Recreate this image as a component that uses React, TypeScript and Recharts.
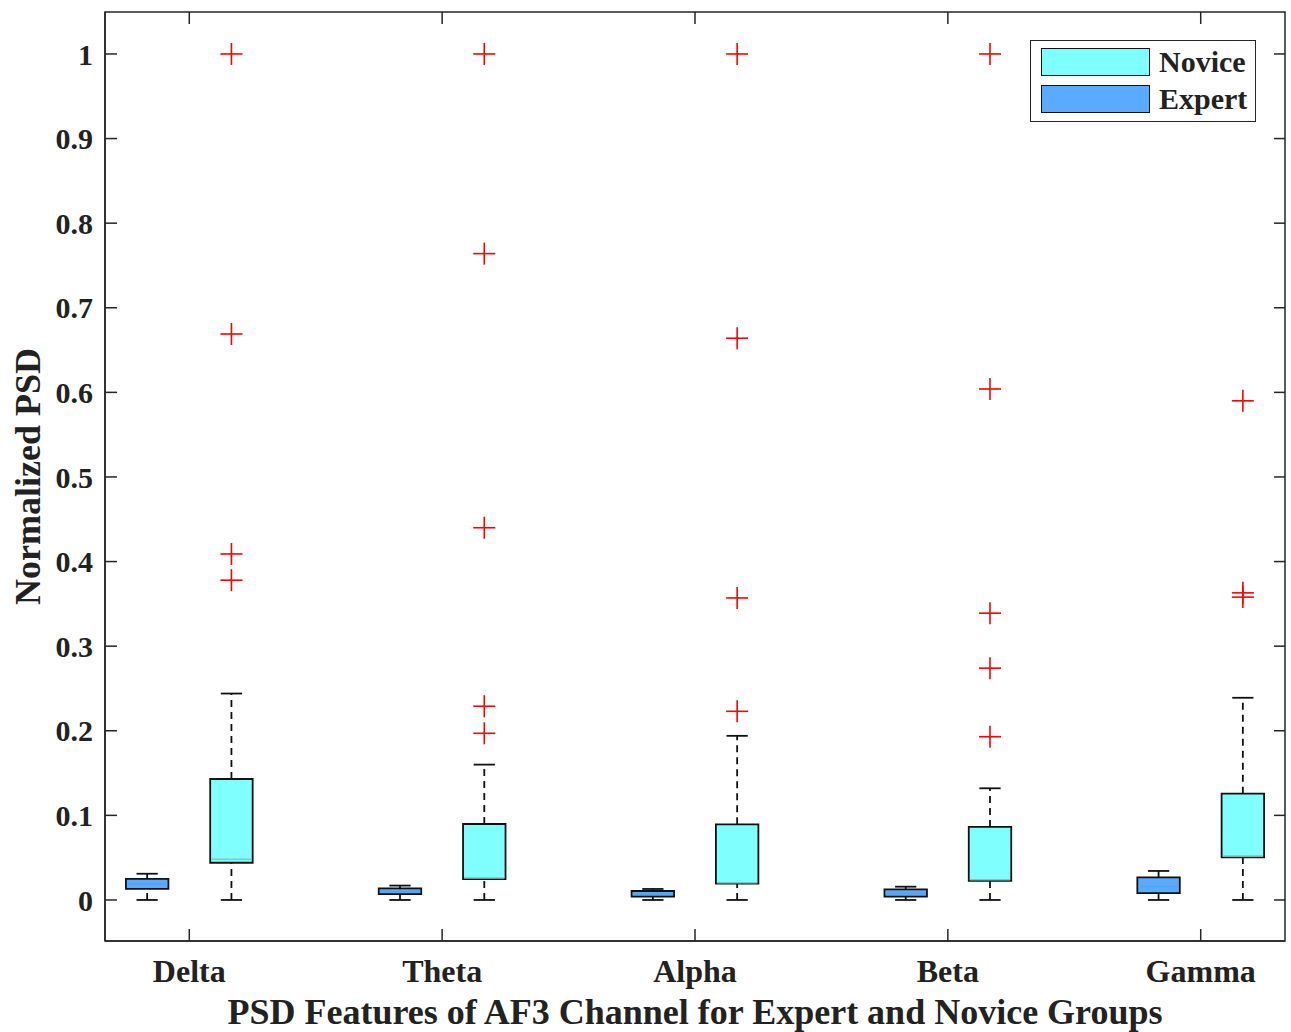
import {
  ScatterChart,
  Scatter,
  XAxis,
  YAxis,
  ReferenceArea,
  ReferenceLine,
} from "recharts";

// Frequency bands on the x axis (positions 1..5)
const bands = ["Delta", "Theta", "Alpha", "Beta", "Gamma"];

// Expert group box statistics (normalized PSD)
const expertMin = [0, 0, 0, 0, 0];
const expertQ1 = [0.013, 0.007, 0.004, 0.004, 0.008];
const expertMedian = [0.019, 0.01, 0.007, 0.008, 0.016];
const expertQ3 = [0.025, 0.0137, 0.0106, 0.0126, 0.0268];
const expertMax = [0.031, 0.017, 0.013, 0.0157, 0.0343];

// Novice group box statistics (normalized PSD)
const noviceMin = [0, 0, 0, 0, 0];
const noviceQ1 = [0.044, 0.0248, 0.0193, 0.0225, 0.0504];
const noviceMedian = [0.048, 0.026, 0.0205, 0.024, 0.052];
const noviceQ3 = [0.143, 0.0898, 0.0894, 0.0863, 0.1257];
const noviceMax = [0.244, 0.16, 0.194, 0.132, 0.239];
const noviceOutliers = [
  [1.0, 0.669, 0.409, 0.378],
  [1.0, 0.764, 0.44, 0.229, 0.197],
  [1.0, 0.664, 0.357, 0.223],
  [1.0, 0.604, 0.339, 0.274, 0.193],
  [0.59, 0.363, 0.358],
];

const yTicks = [0, 0.1, 0.2, 0.3, 0.4, 0.5, 0.6, 0.7, 0.8, 0.9, 1];
const xTicks = [1, 2, 3, 4, 5];

const COLORS = {
  novice: "#80FFFF",
  expert: "#5AAAFF",
  noviceMedian: "#79c9c4",
  expertMedian: "#55a3f5",
  outlier: "#FF0000",
  axis: "#262626",
  box: "#111111",
  text: "#222222",
};

const FONT = "'Liberation Serif', 'Times New Roman', serif";

const X_DOMAIN: [number, number] = [2 / 3, 16 / 3];
const Y_DOMAIN: [number, number] = [-0.0485, 1.0496];

const GROUP_OFFSET = 1 / 6; // expert left, novice right of band tick
const BOX_HALF = 0.084;
const CAP_HALF = 0.042;
// inward tick lengths on the top / right frame edges, in data units
const TOP_TICK = 0.0142;
const RIGHT_TICK = 0.0435;

const outlierPoints = noviceOutliers.flatMap((vals, i) =>
  vals.map((v) => ({ x: i + 1 + GROUP_OFFSET, y: v }))
);

function PlusMark(props: any) {
  const { cx, cy } = props;
  if (cx == null || cy == null) return null;
  const r = 11;
  return (
    <g stroke={COLORS.outlier} strokeWidth={1.6}>
      <line x1={cx - r} y1={cy} x2={cx + r} y2={cy} />
      <line x1={cx} y1={cy - r} x2={cx} y2={cy + r} />
    </g>
  );
}

function fmtY(v: number) {
  if (v === 0) return "0";
  if (v === 1) return "1";
  return v.toFixed(1);
}

function renderBox(
  key: string,
  pos: number,
  lo: number,
  q1: number,
  med: number,
  q3: number,
  hi: number,
  fill: string,
  medColor: string
) {
  return [
    <ReferenceLine
      key={`${key}-wu`}
      segment={[
        { x: pos, y: q3 },
        { x: pos, y: hi },
      ]}
      stroke={COLORS.box}
      strokeWidth={1.8}
      strokeDasharray="7 5"
    />,
    <ReferenceLine
      key={`${key}-wl`}
      segment={[
        { x: pos, y: lo },
        { x: pos, y: q1 },
      ]}
      stroke={COLORS.box}
      strokeWidth={1.8}
      strokeDasharray="7 5"
    />,
    <ReferenceLine
      key={`${key}-ch`}
      segment={[
        { x: pos - CAP_HALF, y: hi },
        { x: pos + CAP_HALF, y: hi },
      ]}
      stroke={COLORS.box}
      strokeWidth={1.8}
    />,
    <ReferenceLine
      key={`${key}-cl`}
      segment={[
        { x: pos - CAP_HALF, y: lo },
        { x: pos + CAP_HALF, y: lo },
      ]}
      stroke={COLORS.box}
      strokeWidth={1.8}
    />,
    <ReferenceArea
      key={`${key}-box`}
      x1={pos - BOX_HALF}
      x2={pos + BOX_HALF}
      y1={q1}
      y2={q3}
      fill={fill}
      fillOpacity={1}
      stroke={COLORS.box}
      strokeWidth={1.8}
    />,
    <ReferenceLine
      key={`${key}-med`}
      segment={[
        { x: pos - BOX_HALF + 0.004, y: med },
        { x: pos + BOX_HALF - 0.004, y: med },
      ]}
      stroke={medColor}
      strokeWidth={1.5}
    />,
  ];
}

function LegendBox() {
  const row = (label: string, color: string, top: number) => (
    <div
      style={{
        position: "absolute",
        left: 10,
        top,
        display: "flex",
        alignItems: "center",
      }}
    >
      <div
        style={{
          width: 109,
          height: 28,
          background: color,
          border: `1.5px solid ${COLORS.box}`,
          boxSizing: "border-box",
        }}
      />
      <span
        style={{
          marginLeft: 9,
          fontFamily: FONT,
          fontWeight: 700,
          fontSize: 30,
          color: COLORS.text,
          lineHeight: "28px",
        }}
      >
        {label}
      </span>
    </div>
  );
  return (
    <div
      style={{
        position: "absolute",
        left: 1030,
        top: 40,
        width: 226,
        height: 82,
        border: `1.5px solid ${COLORS.axis}`,
        background: "#fff",
        boxSizing: "border-box",
      }}
    >
      {row("Novice", COLORS.novice, 7)}
      {row("Expert", COLORS.expert, 44)}
    </div>
  );
}

export default function App() {
  const tickStyle = {
    fill: COLORS.text,
    fontFamily: FONT,
    fontWeight: 700,
  };

  return (
    <div
      style={{
        position: "absolute",
        left: 0,
        top: 0,
        width: 1291,
        height: 1032,
        overflow: "hidden",
        background: "#fff",
      }}
    >
      <ScatterChart
        width={1291}
        height={1032}
        margin={{ top: 12, right: 6, bottom: 0, left: 0 }}
      >
        <XAxis
          type="number"
          dataKey="x"
          domain={X_DOMAIN}
          ticks={xTicks}
          tickFormatter={(v: number) => bands[v - 1] ?? ""}
          height={91}
          stroke={COLORS.axis}
          strokeWidth={1.5}
          tickSize={-12}
          tickMargin={30}
          tick={{ ...tickStyle, fontSize: 32 }}
          allowDataOverflow
          label={{
            value: "PSD Features of AF3 Channel for Expert and Novice Groups",
            position: "insideBottom",
            offset: 8,
            fill: COLORS.text,
            fontFamily: FONT,
            fontWeight: 700,
            fontSize: 36,
          }}
        />
        <YAxis
          type="number"
          dataKey="y"
          domain={Y_DOMAIN}
          ticks={yTicks}
          tickFormatter={fmtY}
          width={105}
          stroke={COLORS.axis}
          strokeWidth={1.5}
          tickSize={-12}
          tickMargin={24}
          tick={{ ...tickStyle, fontSize: 30 }}
          allowDataOverflow
          label={{
            value: "Normalized PSD",
            angle: -90,
            position: "center",
            dx: -25,
            fill: COLORS.text,
            fontFamily: FONT,
            fontWeight: 700,
            fontSize: 36,
          }}
        />

        {/* axes frame with inward ticks on the top and right edges */}
        <ReferenceArea
          x1={X_DOMAIN[0]}
          x2={X_DOMAIN[1]}
          y1={Y_DOMAIN[0]}
          y2={Y_DOMAIN[1]}
          fill="none"
          stroke={COLORS.axis}
          strokeWidth={1.5}
        />
        {xTicks.map((t) => (
          <ReferenceLine
            key={`tt-${t}`}
            segment={[
              { x: t, y: Y_DOMAIN[1] },
              { x: t, y: Y_DOMAIN[1] - TOP_TICK },
            ]}
            stroke={COLORS.axis}
            strokeWidth={1.5}
          />
        ))}
        {yTicks.map((t) => (
          <ReferenceLine
            key={`rt-${t}`}
            segment={[
              { x: X_DOMAIN[1] - RIGHT_TICK, y: t },
              { x: X_DOMAIN[1], y: t },
            ]}
            stroke={COLORS.axis}
            strokeWidth={1.5}
          />
        ))}

        {bands.flatMap((b, i) =>
          renderBox(
            `e-${b}`,
            i + 1 - GROUP_OFFSET,
            expertMin[i],
            expertQ1[i],
            expertMedian[i],
            expertQ3[i],
            expertMax[i],
            COLORS.expert,
            COLORS.expertMedian
          )
        )}
        {bands.flatMap((b, i) =>
          renderBox(
            `n-${b}`,
            i + 1 + GROUP_OFFSET,
            noviceMin[i],
            noviceQ1[i],
            noviceMedian[i],
            noviceQ3[i],
            noviceMax[i],
            COLORS.novice,
            COLORS.noviceMedian
          )
        )}

        <Scatter
          data={outlierPoints}
          dataKey="y"
          shape={PlusMark}
          isAnimationActive={false}
        />
      </ScatterChart>
      <LegendBox />
    </div>
  );
}
